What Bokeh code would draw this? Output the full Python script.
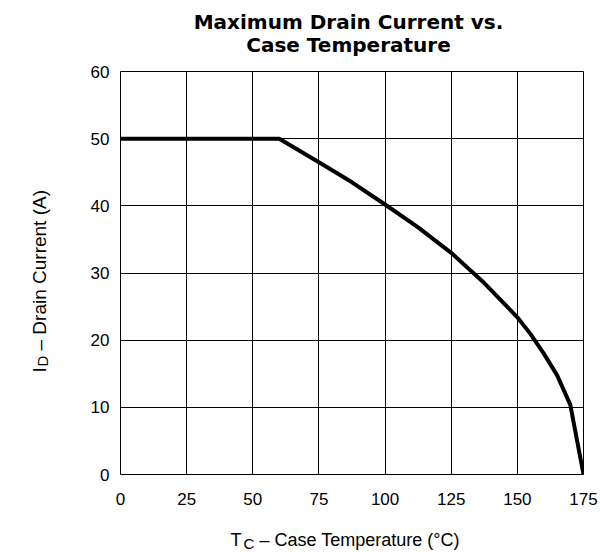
from bokeh.plotting import figure
from bokeh.models import Range1d, FixedTicker, Label
from bokeh.embed import file_html
from bokeh.resources import INLINE
import math

# Data
temp_c = [0, 60, 75, 87.5, 100, 112.5, 125, 137.5, 150, 155, 160, 165, 170, 175]
drain_a = [50, 50, 46.5, 43.5, 40.2, 36.8, 33.0, 28.5, 23.4, 20.9, 18.0, 14.8, 10.4, 0]
x_ticks = [0, 25, 50, 75, 100, 125, 150, 175]
y_ticks = [0, 10, 20, 30, 40, 50, 60]

W, H = 600, 552
L, R, T, B = 120, 17, 71, 78

p = figure(width=W, height=H, output_backend="svg", toolbar_location=None,
           x_range=Range1d(0, 175), y_range=Range1d(0, 60),
           min_border_left=L, min_border_right=R, min_border_top=T, min_border_bottom=B)
p.background_fill_color = "white"
p.border_fill_color = "white"
p.outline_line_color = "black"
p.outline_line_width = 1

for ax in (p.xaxis[0], p.yaxis[0]):
    ax.axis_line_color = None
    ax.major_tick_line_color = None
    ax.minor_tick_line_color = None
    ax.major_tick_out = 0
    ax.major_tick_in = 0
    ax.minor_tick_out = 0
    ax.minor_tick_in = 0
    ax.major_label_text_font = "Liberation Sans"
    ax.major_label_text_font_size = "17px"
    ax.major_label_text_color = "black"
p.xaxis[0].ticker = FixedTicker(ticks=x_ticks)
p.yaxis[0].ticker = FixedTicker(ticks=y_ticks)
p.xaxis[0].major_label_standoff = 18
p.yaxis[0].major_label_standoff = 11

p.xgrid[0].ticker = FixedTicker(ticks=x_ticks)
p.ygrid[0].ticker = FixedTicker(ticks=y_ticks)
for g in (p.xgrid[0], p.ygrid[0]):
    g.grid_line_color = "black"
    g.grid_line_alpha = 1
    g.grid_line_width = 1

p.line(temp_c, drain_a, line_color="black", line_width=4, line_join="round", line_cap="round")

def lab(side, text, px, py, size, align="left", bold=False, font="Liberation Sans", angle=0.0):
    p.add_layout(Label(x=px, y=py, x_units="canvas", y_units="canvas", text=text, text_font=font,
                       text_font_size=f"{size}px", text_font_style="bold" if bold else "normal",
                       text_align=align, text_baseline="alphabetic", text_color="black",
                       angle=angle), side)

# title
lab("above", "Maximum Drain Current vs.", 348, 21, 20, align="center", bold=True, font="DejaVu Sans")
lab("above", "Case Temperature", 348, 44.5, 20, align="center", bold=True, font="DejaVu Sans")

# x axis label with subscript
lab("left", "T", 230, 539, 18)
lab("left", "C", 243, 543, 15)
lab("below", "\u2013 Case Temperature (\u00b0C)", 259, 539, 18)

# y axis label with subscript (rotated)
lab("left", "I", 39, 372, 19, angle=math.pi / 2)
lab("left", "D", 42, 366, 15, angle=math.pi / 2)
lab("left", "\u2013 Drain Current (A)", 39, 350, 19, angle=math.pi / 2)

open("out.html", "w").write(file_html(p, INLINE))
